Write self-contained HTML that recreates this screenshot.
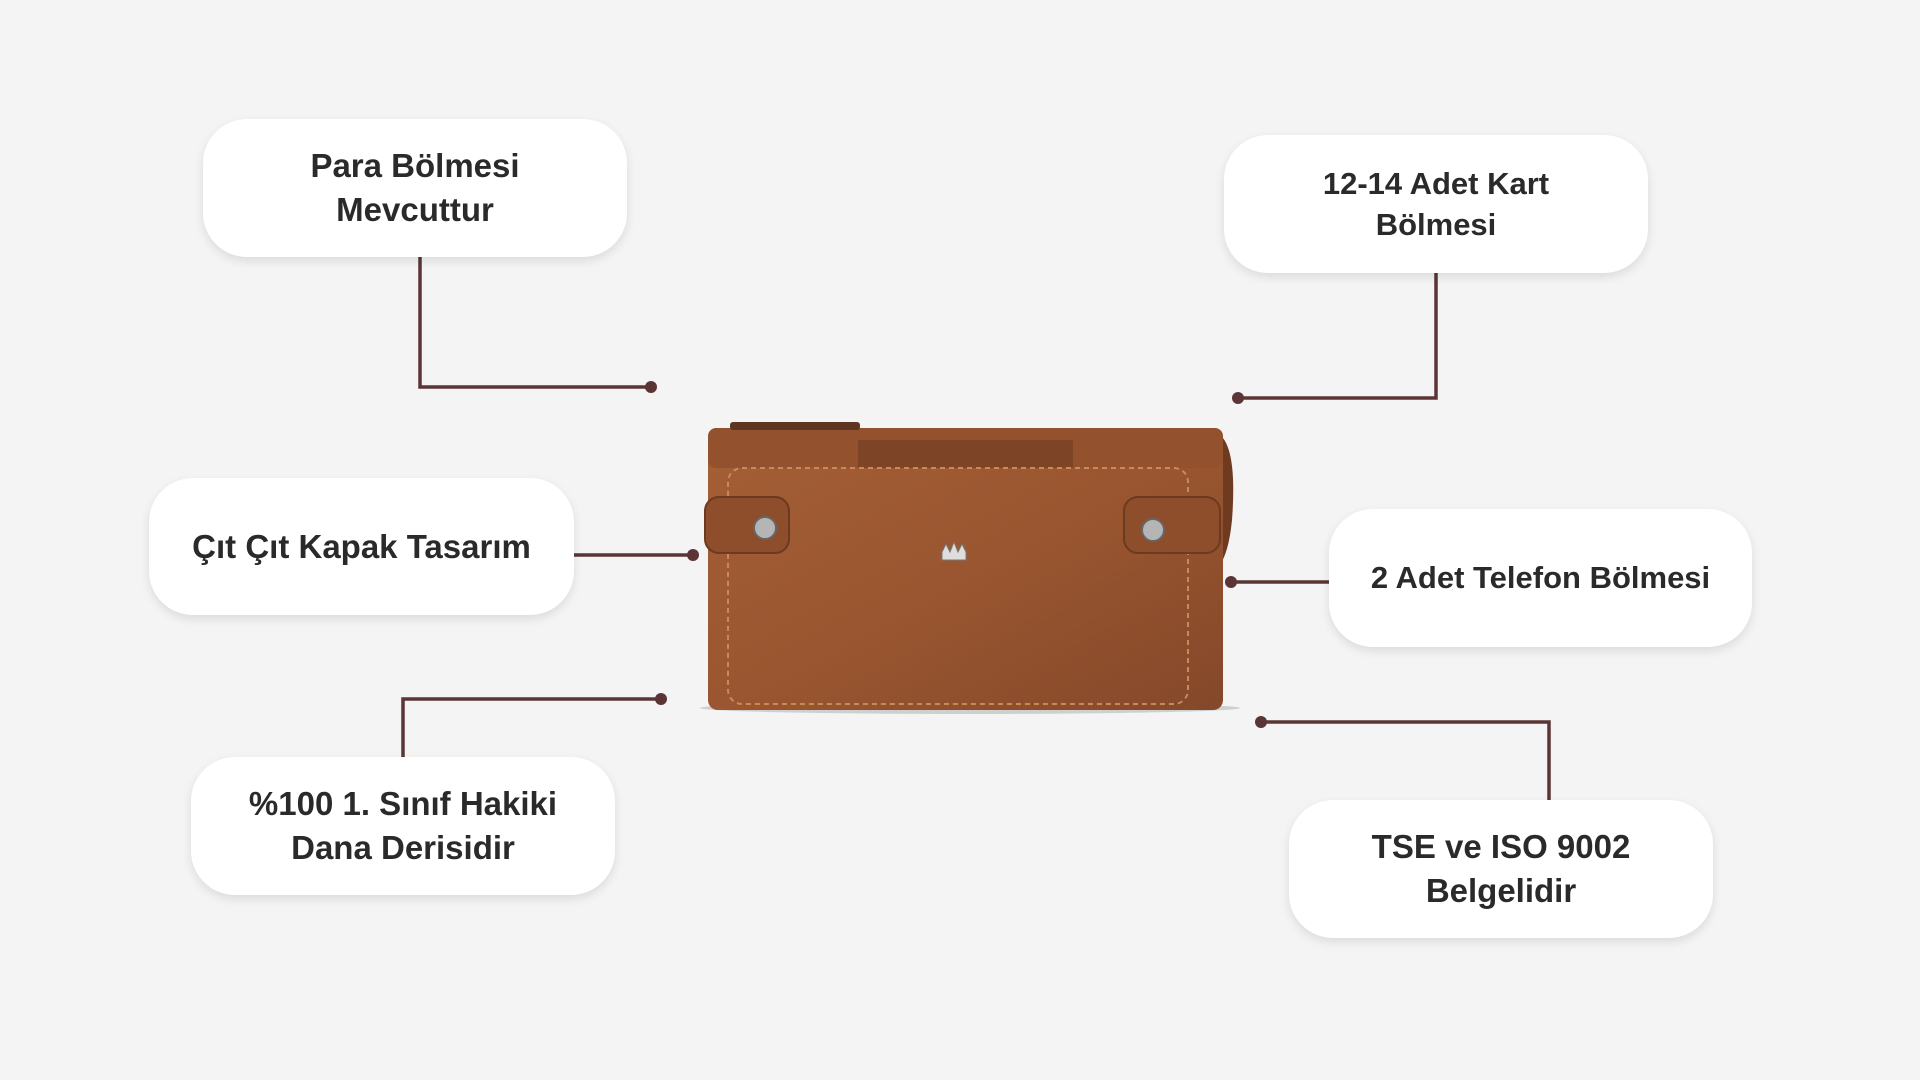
<!DOCTYPE html>
<html><head><meta charset="utf-8"><style>
html,body{margin:0;padding:0}
body{width:1920px;height:1080px;background:#f4f4f4;position:relative;overflow:hidden;font-family:"Liberation Sans",sans-serif}
.box{position:absolute;background:#fff;border-radius:44px;box-shadow:0 4px 10px rgba(0,0,0,0.10);display:flex;align-items:center;justify-content:center;text-align:center;color:#2a2a2a;font-weight:bold;font-size:33px;line-height:44px}
svg{position:absolute;left:0;top:0}
</style></head><body>
<svg width="1920" height="1080">
<g stroke="#5b3535" stroke-width="3.5" fill="none">
<polyline points="420,257 420,387 651,387"/>
<polyline points="1436,273 1436,398 1238,398"/>
<polyline points="574,555 693,555"/>
<polyline points="1329,582 1231,582"/>
<polyline points="403,757 403,699 661,699"/>
<polyline points="1549,800 1549,722 1261,722"/>
</g>
<g fill="#5b3535">
<circle cx="651" cy="387" r="6"/><circle cx="1238" cy="398" r="6"/>
<circle cx="693" cy="555" r="6"/><circle cx="1231" cy="582" r="6"/>
<circle cx="661" cy="699" r="6"/><circle cx="1261" cy="722" r="6"/>
</g>
<defs><linearGradient id="lg" x1="0" y1="0" x2="1" y2="1">
<stop offset="0" stop-color="#a45f36"/><stop offset="0.5" stop-color="#9a5630"/><stop offset="1" stop-color="#84482a"/></linearGradient></defs>
<ellipse cx="970" cy="708" rx="270" ry="6" fill="#cfcfcf"/>
<path d="M1215,432 Q1238,440 1232,520 Q1228,560 1215,570Z" fill="#6e3a20"/>
<rect x="708" y="428" width="515" height="282" rx="10" fill="url(#lg)"/>
<rect x="708" y="428" width="515" height="40" rx="8" fill="#93512d"/>
<rect x="858" y="440" width="215" height="28" fill="#7d4425"/>
<rect x="728" y="468" width="460" height="236" rx="14" fill="none" stroke="#c98a5a" stroke-width="2" stroke-dasharray="5 4"/>
<rect x="705" y="497" width="84" height="56" rx="14" fill="#8e4d2b" stroke="#6b3a20" stroke-width="2"/>
<rect x="1124" y="497" width="96" height="56" rx="14" fill="#8e4d2b" stroke="#6b3a20" stroke-width="2"/>
<circle cx="765" cy="528" r="11" fill="#b5b5b5" stroke="#666" stroke-width="2"/>
<circle cx="1153" cy="530" r="11" fill="#b5b5b5" stroke="#666" stroke-width="2"/>
<path d="M942,552 l4,-8 4,8 4,-10 4,10 4,-8 4,8 v8 h-24z" fill="#ddd" stroke="#777"/>
<rect x="730" y="422" width="130" height="8" rx="3" fill="#5e3520"/>
</svg>
<div class="box" style="left:203px;top:119px;width:424px;height:138px">Para Bölmesi<br>Mevcuttur</div>
<div class="box" style="left:1224px;top:135px;width:424px;height:138px;font-size:31px;line-height:41px">12-14 Adet Kart<br>Bölmesi</div>
<div class="box" style="left:149px;top:478px;width:425px;height:137px">Çıt Çıt Kapak Tasarım</div>
<div class="box" style="left:1329px;top:509px;width:423px;height:138px;font-size:31px">2 Adet Telefon Bölmesi</div>
<div class="box" style="left:191px;top:757px;width:424px;height:138px">%100 1. Sınıf Hakiki<br>Dana Derisidir</div>
<div class="box" style="left:1289px;top:800px;width:424px;height:138px">TSE ve ISO 9002<br>Belgelidir</div>
</body></html>
